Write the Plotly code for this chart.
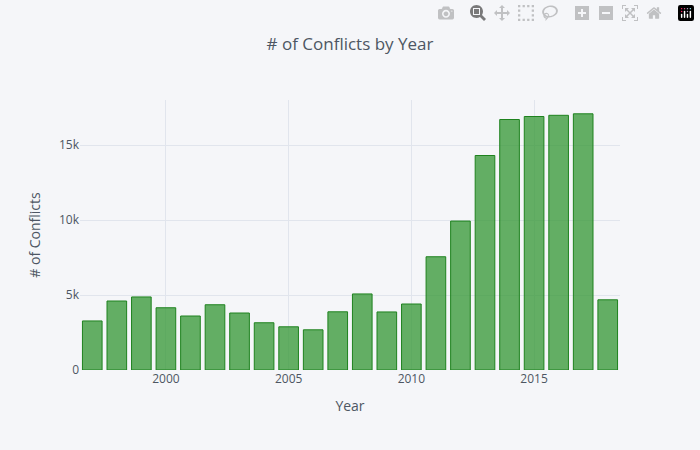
import plotly.graph_objects as go

years = list(range(1997, 2019))
conflicts = [3270, 4600, 4870, 4150, 3600, 4350, 3800, 3150, 2880, 2680, 3880, 5070, 3870, 4400, 7550, 9930, 14300, 16700, 16900, 16980, 17080, 4680]

fig = go.Figure(go.Bar(
    x=years, y=conflicts,
    marker=dict(color="rgba(50,150,50,0.75)", line=dict(color="rgb(30,130,30)", width=1)),
))
fig.update_layout(
    width=700, height=450,
    title=dict(text="# of Conflicts by Year", x=0.5, font=dict(size=17, color="#4D5663")),
    paper_bgcolor="#F5F6F9", plot_bgcolor="#F5F6F9",
    font=dict(color="#4D5663"),
    xaxis=dict(title="Year", gridcolor="#E1E5ED", zeroline=False, tickvals=[2000, 2005, 2010, 2015]),
    yaxis=dict(title="# of Conflicts", gridcolor="#E1E5ED", zeroline=False, range=[0, 18000]),
    bargap=0.2,
    showlegend=False,
)
fig.write_html("out.html", post_script="document.body.style.margin='0';document.body.style.background='#F5F6F9';")
